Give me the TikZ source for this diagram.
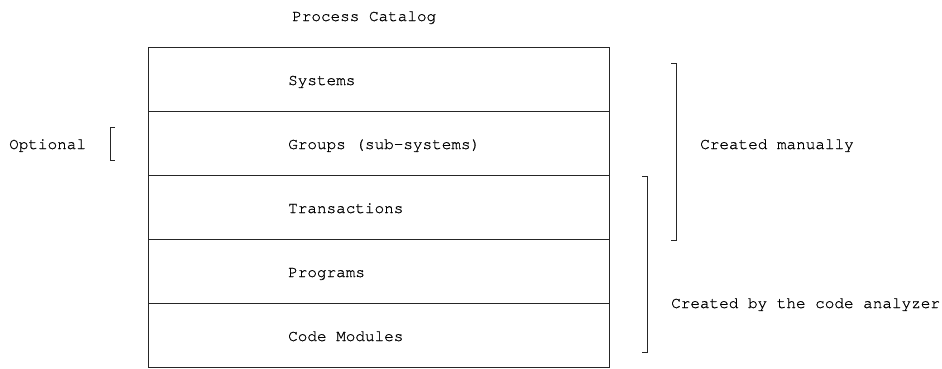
\documentclass[tikz,border=0pt]{standalone}
\usepackage{fontspec}
\setmonofont[FakeBold=0.8]{texgyrecursor-regular.otf}
\begin{document}
\begin{tikzpicture}[x=1pt,y=-1pt,
  every node/.style={font=\ttfamily\fontsize{16}{16}\selectfont, text=black, inner sep=0pt},
  layer/.style={draw=black!85, line width=1pt, minimum width=461pt, minimum height=64pt, anchor=north west},
  lbl/.style={anchor=base west},
  brk/.style={draw=black!85, line width=1pt}
]
\useasboundingbox (0,0) rectangle (942,368);

% title
\node[lbl] (title) at (292,21) {Process Catalog};

% catalog layers, top to bottom
\node[layer] (sys) at (148,47) {};
\node[layer] (grp) at (148,111) {};
\node[layer] (trn) at (148,175) {};
\node[layer] (prg) at (148,239) {};
\node[layer] (mod) at (148,303) {};

\node[lbl] (sysT) at (288,85) {Systems};
\node[lbl] (grpT) at (288,149) {Groups (sub-systems)};
\node[lbl] (trnT) at (288,213) {Transactions};
\node[lbl] (prgT) at (288,277) {Programs};
\node[lbl] (modT) at (288,341) {Code Modules};

% optional marker
\node[lbl] (opt) at (9,149) {Optional};
\coordinate (ob1) at (115,127);
\coordinate (ob2) at (110,127);
\coordinate (ob3) at (110,160);
\coordinate (ob4) at (115,160);
\draw[brk] (ob1) -- (ob2) -- (ob3) -- (ob4);

% created manually
\coordinate (mb1) at (671,63);
\coordinate (mb2) at (676,63);
\coordinate (mb3) at (676,240);
\coordinate (mb4) at (671,240);
\draw[brk] (mb1) -- (mb2) -- (mb3) -- (mb4);
\node[lbl] (man) at (700,149) {Created manually};

% created by the analyzer
\coordinate (ab1) at (642,176);
\coordinate (ab2) at (647,176);
\coordinate (ab3) at (647,352);
\coordinate (ab4) at (642,352);
\draw[brk] (ab1) -- (ab2) -- (ab3) -- (ab4);
\node[lbl] (ana) at (671,308) {Created by the code analyzer};
\end{tikzpicture}
\end{document}
